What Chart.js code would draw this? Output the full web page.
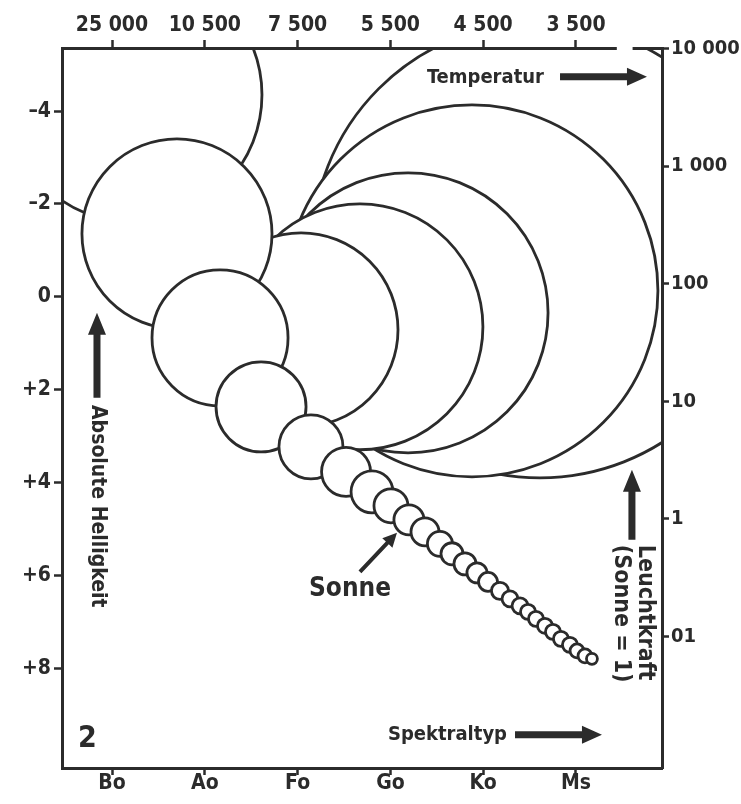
<!DOCTYPE html>
<html>
<head>
<meta charset="utf-8">
<script src="https://cdn.jsdelivr.net/npm/chart.js@4.4.1/dist/chart.umd.min.js"></script>
<style>
  html, body { margin: 0; padding: 0; background: #fff; }
</style>
</head>
<body>
<canvas id="hrd" width="741" height="804"></canvas>
<script>
// Achsen: Spektraltyp unten, Temperatur oben
const spectralTypes = ['Bo', 'Ao', 'Fo', 'Go', 'Ko', 'Ms'];
const temperatures = ['25 000', '10 500', '7 500', '5 500', '4 500', '3 500'];

// absolute Helligkeit links, Leuchtkraft (Sonne = 1) rechts
const magTicks = [-4, -2, 0, 2, 4, 6, 8];
const lumTicks = [0.1, 1, 10, 100, 1000, 10000];
const lumLabels = ['01', '1', '10', '100', '1 000', '10 000'];

// Hauptreihe (x = Spektraltyp, mag = abs. Helligkeit, size = Radius in Spektralklassen)
const mainX = [0.700, 1.164, 1.606, 2.144, 2.522, 2.802, 3.006, 3.200, 3.373, 3.534,
  3.664, 3.804, 3.933, 4.052, 4.181, 4.289, 4.397, 4.483, 4.569, 4.666,
  4.752, 4.838, 4.935, 5.011, 5.097, 5.172];
const mainMag = [-1.357, 0.883, 2.370, 3.231, 3.770, 4.201, 4.502, 4.804, 5.062, 5.321,
  5.536, 5.752, 5.946, 6.140, 6.334, 6.506, 6.657, 6.786, 6.937, 7.087,
  7.217, 7.368, 7.497, 7.626, 7.734, 7.798];
const mainSize = [1.024, 0.733, 0.485, 0.345, 0.264, 0.226, 0.183, 0.162, 0.151, 0.135,
  0.119, 0.119, 0.108, 0.102, 0.092, 0.086, 0.086, 0.081, 0.081, 0.081,
  0.081, 0.081, 0.081, 0.075, 0.075, 0.059];

// Riesen (groesster zuerst, damit die kleineren davor liegen)
const giantX = [4.612, 3.879, 3.190, 2.672, 2.037];
const giantMag = [-1.012, -0.129, 0.345, 0.646, 0.711];
const giantSize = [2.457, 2.004, 1.509, 1.325, 1.045];

// Ueberriese oben links
const superX = [0.237];
const superMag = [-4.352];
const superSize = [1.379];

const ink = '#2b2b2b';
const fam = "'DejaVu Sans Condensed', 'DejaVu Sans', sans-serif";
const tickFont = { family: fam, size: 21, weight: 'bold' };

function points(xs, ms, ss) {
  return xs.map((x, i) => ({ x: x, y: ms[i], size: ss[i] }));
}

// Radius ueber die x-Skala in Pixel umrechnen
function radiusFor(c) {
  const s = c.chart.scales.x;
  const r = Math.abs(s.getPixelForValue(c.raw.size) - s.getPixelForValue(0));
  return Number.isFinite(r) ? r : 0;
}

function arrow(ctx, x1, y1, x2, y2, w, hw, hl) {
  const a = Math.atan2(y2 - y1, x2 - x1);
  const len = Math.hypot(x2 - x1, y2 - y1);
  ctx.save();
  ctx.translate(x1, y1);
  ctx.rotate(a);
  ctx.beginPath();
  ctx.moveTo(0, -w / 2);
  ctx.lineTo(len - hl, -w / 2);
  ctx.lineTo(len - hl, -hw / 2);
  ctx.lineTo(len, 0);
  ctx.lineTo(len - hl, hw / 2);
  ctx.lineTo(len - hl, w / 2);
  ctx.lineTo(0, w / 2);
  ctx.closePath();
  ctx.fill();
  ctx.restore();
}

function vtext(ctx, txt, x, y) {
  ctx.save();
  ctx.translate(x, y);
  ctx.rotate(Math.PI / 2);
  ctx.textAlign = 'left';
  ctx.textBaseline = 'middle';
  ctx.fillText(txt, 0, 0);
  ctx.restore();
}

const notes = {
  id: 'notes',
  afterDraw(chart) {
    const ctx = chart.ctx;
    const area = chart.chartArea;
    const px = v => chart.scales.x.getPixelForValue(v);
    const py = v => chart.scales.y.getPixelForValue(v);
    ctx.save();
    // Luecke in der oberen Achse
    ctx.fillStyle = '#fff';
    ctx.fillRect(px(5.44), area.top - 3, px(5.61) - px(5.44), 6);

    ctx.fillStyle = ink;
    ctx.textBaseline = 'middle';
    ctx.textAlign = 'left';
    ctx.font = 'bold 20px ' + fam;
    ctx.fillText('Temperatur', px(3.394), py(-4.72));
    arrow(ctx, px(4.828), py(-4.74), px(5.765), py(-4.74), 7, 18, 20);
    ctx.fillText('Spektraltyp', px(2.974), py(9.435));
    arrow(ctx, px(4.343), py(9.435), px(5.28), py(9.435), 7, 18, 20);

    ctx.font = 'bold 21px ' + fam;
    vtext(ctx, 'Absolute Helligkeit', px(-0.162), py(2.33));
    arrow(ctx, px(-0.162), py(2.176), px(-0.162), py(0.345), 7, 18, 22);
    ctx.font = 'bold 23px ' + fam;
    vtext(ctx, 'Leuchtkraft', px(5.744), py(5.343));
    vtext(ctx, '(Sonne = 1)', px(5.485), py(5.343));
    arrow(ctx, px(5.603), py(5.235), px(5.603), py(3.727), 7, 18, 22);

    ctx.font = 'bold 30px ' + fam;
    ctx.fillText('2', px(-0.366), py(9.54));

    ctx.font = 'bold 26px ' + fam;
    ctx.textAlign = 'center';
    ctx.fillText('Sonne', px(2.565), py(6.29));
    arrow(ctx, px(2.672), py(5.924), px(3.071), py(5.084), 4, 14, 14);
    ctx.restore();
  }
};

const starStyle = {
  parsing: false,
  backgroundColor: '#fff',
  borderColor: ink,
  borderWidth: 2.8,
  radius: radiusFor,
  clip: 0
};

const gridStyle = { drawOnChartArea: false, tickLength: 8, tickWidth: 2.5, tickColor: ink };
const borderStyle = { color: ink, width: 3, z: 1 };

new Chart(document.getElementById('hrd'), {
  type: 'bubble',
  data: {
    datasets: [
      Object.assign({ label: 'Hauptreihe', order: 1, data: points(mainX, mainMag, mainSize) }, starStyle),
      Object.assign({ label: 'Riesen', order: 2, data: points(giantX, giantMag, giantSize) }, starStyle),
      Object.assign({ label: 'Überriese', order: 3, data: points(superX, superMag, superSize) }, starStyle)
    ]
  },
  options: {
    responsive: false,
    animation: false,
    events: [],
    devicePixelRatio: 1,
    layout: { autoPadding: false, padding: 0 },
    plugins: { legend: { display: false }, tooltip: { enabled: false } },
    scales: {
      x: {
        type: 'linear', position: 'bottom', min: -0.539, max: 5.927,
        afterBuildTicks: s => { s.ticks = spectralTypes.map((t, i) => ({ value: i })); },
        afterFit: s => { s.height = 36; },
        ticks: { callback: v => spectralTypes[v], font: tickFont, color: ink, padding: -4, maxRotation: 0, autoSkip: false },
        grid: { drawOnChartArea: false, tickLength: 7, tickWidth: 2.5, tickColor: ink },
        border: borderStyle
      },
      xTop: {
        type: 'linear', position: 'top', min: -0.539, max: 5.927,
        afterBuildTicks: s => { s.ticks = temperatures.map((t, i) => ({ value: i })); },
        afterFit: s => { s.height = 48; },
        ticks: { callback: v => temperatures[v], font: tickFont, color: ink, padding: 2, maxRotation: 0, autoSkip: false },
        grid: gridStyle,
        border: borderStyle
      },
      y: {
        type: 'linear', position: 'left', reverse: true, min: -5.36, max: 10.15,
        afterBuildTicks: s => { s.ticks = magTicks.map(v => ({ value: v })); },
        afterFit: s => { s.width = 62; },
        ticks: { callback: v => v > 0 ? '+' + v : (v < 0 ? '–' + Math.abs(v) : '0'), font: tickFont, color: ink, padding: 3, autoSkip: false },
        grid: gridStyle,
        border: borderStyle
      },
      yLum: {
        type: 'logarithmic', position: 'right', min: 0.00763, max: 10116,
        afterBuildTicks: s => { s.ticks = lumTicks.map(v => ({ value: v })); },
        afterFit: s => { s.width = 79; },
        ticks: { callback: v => lumLabels[lumTicks.indexOf(v)], font: { family: fam, size: 20, weight: 'bold' }, color: ink, padding: 2, autoSkip: false },
        grid: { drawOnChartArea: false, tickLength: 7, tickWidth: 2.5, tickColor: ink },
        border: borderStyle
      }
    }
  },
  plugins: [notes]
});
</script>
</body>
</html>
